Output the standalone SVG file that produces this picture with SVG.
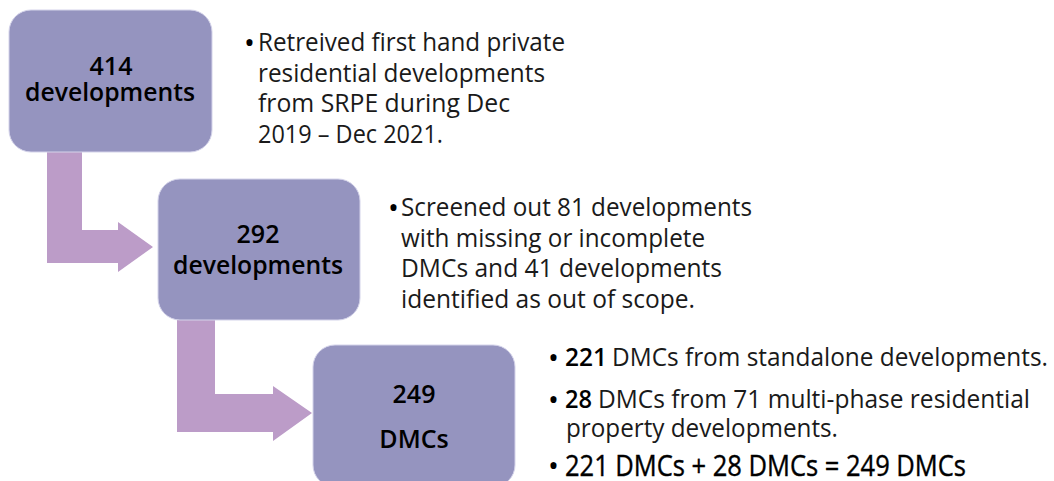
<svg xmlns="http://www.w3.org/2000/svg" width="1054" height="481" viewBox="0 0 1054 481">
<style>
.box{fill:#9594BF;stroke:#d4d3ea;stroke-width:1}
.arrow{fill:#BC9CC8}
.bt{font-family:"Open Sans","Noto Sans",sans-serif;font-weight:600;font-size:25px;fill:#000;text-anchor:middle}
.tx{font-family:"Open Sans","Noto Sans",sans-serif;font-size:25px;fill:#1a1a1a}
.bu{font-size:29px;fill:#000}
.b{font-weight:600;fill:#000}
.big{font-size:30px;font-weight:500;fill:#000;stroke:#000;stroke-width:0.4}
</style>
<rect width="1054" height="481" fill="#fff"/>
<g id="connectors">
<polygon class="arrow" points="47,152 82,152 82,230 118,230 118,222 153,247 118,272 118,263 47,263"/>
<polygon class="arrow" points="177,320 215,320 215,394 273,394 273,386 312,413 273,441 273,432 177,432"/>
</g>
<g id="node1">
<rect class="box" x="9" y="10" width="203" height="142" rx="22"/>
<text class="bt" x="111" y="75">414</text>
<text class="bt" x="110" y="101" textLength="170" lengthAdjust="spacingAndGlyphs">developments</text>
</g>
<g id="node2">
<rect class="box" x="158" y="179" width="202" height="141" rx="22"/>
<text class="bt" x="258" y="243">292</text>
<text class="bt" x="258" y="274" textLength="170" lengthAdjust="spacingAndGlyphs">developments</text>
</g>
<g id="node3">
<rect class="box" x="313" y="345" width="202" height="142" rx="22"/>
<text class="bt" x="414" y="403">249</text>
<text class="bt" x="414" y="448">DMCs</text>
</g>
<g id="note1" class="tx">
<text class="bu" x="244" y="53">•</text>
<text x="258" y="51" textLength="307" lengthAdjust="spacingAndGlyphs">Retreived first hand private</text>
<text x="258" y="82" textLength="287" lengthAdjust="spacingAndGlyphs">residential developments</text>
<text x="258" y="112" textLength="252" lengthAdjust="spacingAndGlyphs">from SRPE during Dec</text>
<text x="258" y="143" textLength="185" lengthAdjust="spacingAndGlyphs">2019 – Dec 2021.</text>
</g>
<g id="note2" class="tx">
<text class="bu" x="388" y="218">•</text>
<text x="401" y="216" textLength="351" lengthAdjust="spacingAndGlyphs">Screened out 81 developments</text>
<text x="401" y="247" textLength="304" lengthAdjust="spacingAndGlyphs">with missing or incomplete</text>
<text x="401" y="277" textLength="321" lengthAdjust="spacingAndGlyphs">DMCs and 41 developments</text>
<text x="401" y="308" textLength="294" lengthAdjust="spacingAndGlyphs">identified as out of scope.</text>
</g>
<g id="note3" class="tx">
<text class="bu" x="548" y="368">•</text>
<text x="565" y="366" class="b" textLength="42" lengthAdjust="spacingAndGlyphs">221</text>
<text x="612" y="366" textLength="436" lengthAdjust="spacingAndGlyphs">DMCs from standalone developments.</text>
<text class="bu" x="548" y="410">•</text>
<text x="565" y="408" class="b" textLength="27" lengthAdjust="spacingAndGlyphs">28</text>
<text x="598" y="408" textLength="432" lengthAdjust="spacingAndGlyphs">DMCs from 71 multi-phase residential</text>
<text x="566" y="437" textLength="272" lengthAdjust="spacingAndGlyphs">property developments.</text>
<text class="bu" x="548" y="476">•</text>
<text x="565" y="476" class="big" textLength="401" lengthAdjust="spacingAndGlyphs">221 DMCs + 28 DMCs = 249 DMCs</text>
</g>
</svg>
